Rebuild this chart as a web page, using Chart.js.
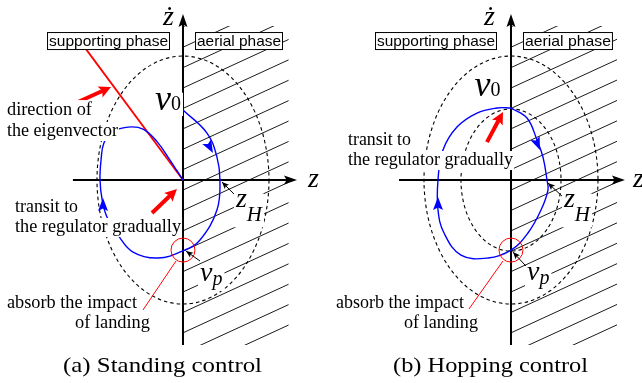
<!DOCTYPE html>
<html>
<head>
<meta charset="utf-8">
<script src="https://cdn.jsdelivr.net/npm/chart.js@4.4.0/dist/chart.umd.min.js"></script>
<style>
html, body { margin: 0; padding: 0; background: #fff; }
#wrap { position: relative; width: 642px; height: 383px; overflow: hidden; }
canvas { position: absolute; top: 0; }
#probe { position: absolute; left: -999px; font-family: "Liberation Serif"; }
</style>
</head>
<body>
<div id="wrap">
  <canvas id="panelA" width="321" height="383" style="left:0"></canvas>
  <canvas id="panelB" width="321" height="383" style="left:321px"></canvas>
</div>
<span id="probe">the regulator <i>v</i></span>
<script>
// Phase plane (z, zdot), both axes normalised to the outer energy contour.

// (a) standing control trajectory, starting at v0 and going clockwise
const standZ    = [0, 0.279, 0.395, 0.43, 0.395, 0.198, 0.02, -0.29, -0.581, -0.756, -0.884, -0.94, -0.965, -0.953, -0.92, -0.826, -0.64, -0.465, -0.302, -0.151, -0.07, 0];
const standZdot = [0.565, 0.379, 0.185, 0, -0.242, -0.484, -0.565, -0.629, -0.581, -0.444, -0.298, -0.16, 0, 0.161, 0.298, 0.387, 0.427, 0.411, 0.31, 0.16, 0.075, 0];
// eigenvector direction (red line into the origin)
const eigenZ    = [-1.128, 0];
const eigenZdot = [1.056, 0];
// pointer line from the landing ring to its note
const standLandZ    = [-0.081, -0.465];
const standLandZdot = [-0.653, -1.048];

// (b) hopping control trajectory, a closed loop through v0 and vp
const hopZ    = [0, 0.184, 0.299, 0.368, 0.414, 0.425, 0.345, 0.195, 0, -0.264, -0.575, -0.77, -0.839, -0.839, -0.782, -0.621, -0.391, -0.161, 0];
const hopZdot = [0.581, 0.5, 0.323, 0.185, 0, -0.081, -0.242, -0.427, -0.565, -0.629, -0.605, -0.427, -0.242, 0, 0.242, 0.427, 0.54, 0.581, 0.581];
const hopLandZ    = [-0.092, -0.483];
const hopLandZdot = [-0.653, -1.04];

// dashed energy contours: semi-axes [z, zdot]
const standContours = [[1, 1]];
const hopContours   = [[1, 1], [0.575, 0.573]];

const phaseLabels = ['supporting phase', 'aerial phase'];
const captions = ['(a) Standing control', '(b) Hopping control'];

const BLUE = '#0000ff';
const RED = '#ff0000';
const SERIF = '"Liberation Serif", serif';
const SANS = '"Liberation Sans", sans-serif';
const HATCH_GAP = 20.4;
const HATCH_SLOPE = 0.46;

// annotation anchors (data units) for each panel
const standLayout = {
  view: [-2.128, 1.605, -1.637, 1.452],
  axisZ: [-1.28, 1.326], axisZdot: [-1.33, 1.339],
  hatch: [1.23, 1.242, -1.33],
  boxes: [[-1.581, -0.151], [0.14, 1.163]], boxZdot: 1.121,
  contours: standContours,
  notes: [
    ['direction of', -2.047, 0.524, 85],
    ['the eigenvector', -2.047, 0.355, 111],
    ['transit to', -1.953, -0.258, 63],
    ['the regulator gradually', -1.953, -0.419, 166],
    ['absorb the impact', -2.047, -1.032, 130],
    ['of landing', -1.256, -1.194, 75]
  ],
  caption: [captions[0], -1.395, -1.548, 199],
  math: [
    ['v', '0', -0.325, 0.565, 36, 20, 0],
    ['v', 'p', 0.198, -0.815, 28, 20, 4],
    ['z', 'H', 0.616, -0.218, 28, 21, 14],
    ['\u017C', '', -0.233, 1.25, 28, 0, 0],
    ['z', '', 1.453, -0.056, 28, 0, 0]
  ],
  redArrows: [[-1.221, 0.629, -0.837, 0.75], [-0.36, -0.266, -0.07, -0.073]],
  blueHeads: [[0.279, 0.306, 0.349, 0.218], [-0.93, -0.242, -0.93, -0.145]],
  pointers: [[0.198, -0.653, 0.035, -0.573], [0.628, -0.137, 0.453, -0.016]],
  ring: [0, -0.565]
};

const hopLayout = {
  view: [-2.184, 1.506, -1.637, 1.452],
  axisZ: [-1.287, 1.31], axisZdot: [-1.33, 1.339],
  hatch: [1.22, 1.242, -1.33],
  boxes: [[-1.563, -0.161], [0.138, 1.172]], boxZdot: 1.121,
  contours: hopContours,
  notes: [
    ['transit to', -1.874, 0.282, 63],
    ['the regulator gradually', -1.874, 0.121, 165],
    ['absorb the impact', -2.011, -1.032, 128],
    ['of landing', -1.23, -1.194, 74]
  ],
  caption: [captions[1], -1.356, -1.548, 195],
  math: [
    ['v', '0', -0.42, 0.675, 36, 20, 0],
    ['v', 'p', 0.184, -0.806, 28, 20, 4],
    ['z', 'H', 0.609, -0.218, 28, 21, 14],
    ['\u017C', '', -0.31, 1.25, 28, 0, 0],
    ['z', '', 1.402, -0.056, 28, 0, 0]
  ],
  redArrows: [[-0.276, 0.306, -0.092, 0.548]],
  blueHeads: [[0.276, 0.339, 0.333, 0.242], [-0.839, -0.242, -0.839, -0.137]],
  pointers: [[0.172, -0.694, 0.023, -0.581], [0.598, -0.137, 0.425, -0.024]],
  ring: [0, -0.565]
};

function toPoints(xs, ys) {
  return xs.map((x, i) => ({ x, y: ys[i] }));
}

function head(ctx, x0, y0, x1, y1, len, half, color) {
  const a = Math.atan2(y1 - y0, x1 - x0);
  ctx.save();
  ctx.translate(x1, y1);
  ctx.rotate(a);
  ctx.beginPath();
  ctx.moveTo(0, 0);
  ctx.lineTo(-len, -half);
  ctx.lineTo(-len * 0.8, 0);
  ctx.lineTo(-len, half);
  ctx.closePath();
  ctx.fillStyle = color;
  ctx.fill();
  ctx.restore();
}

function fitText(ctx, text, x, y, width, font, bg) {
  ctx.save();
  ctx.font = font;
  const m = ctx.measureText(text);
  const k = width / m.width;
  if (bg) {
    ctx.fillStyle = '#fff';
    ctx.fillRect(x - 1, y - m.actualBoundingBoxAscent - 1, width + 2,
      m.actualBoundingBoxAscent + m.actualBoundingBoxDescent + 2);
  }
  ctx.translate(x, y);
  ctx.scale(k, 1);
  ctx.fillStyle = '#000';
  ctx.textBaseline = 'alphabetic';
  ctx.fillText(text, 0, 0);
  ctx.restore();
}

function diagram(L) {
  return {
    id: 'diagram',
    beforeDatasetsDraw(chart) {
      const ctx = chart.ctx;
      const X = v => chart.scales.x.getPixelForValue(v);
      const Y = v => chart.scales.y.getPixelForValue(v);
      const ox = X(0), oy = Y(0);

      // hatched aerial phase
      const hx = X(L.hatch[0]), hyT = Y(L.hatch[1]), hyB = Y(L.hatch[2]);
      const w = hx - ox;
      ctx.save();
      ctx.beginPath();
      ctx.rect(ox, hyT, w, hyB - hyT);
      ctx.clip();
      ctx.strokeStyle = '#000';
      ctx.lineWidth = 0.9;
      for (let c = oy + 10 - HATCH_GAP * 20; c < hyB + HATCH_SLOPE * w + HATCH_GAP; c += HATCH_GAP) {
        ctx.beginPath();
        ctx.moveTo(ox, c);
        ctx.lineTo(hx, c - HATCH_SLOPE * w);
        ctx.stroke();
      }
      ctx.restore();

      // dashed energy contours
      ctx.save();
      ctx.strokeStyle = '#000';
      ctx.lineWidth = 1.1;
      ctx.setLineDash([3.5, 3]);
      L.contours.forEach(([rz, rd]) => {
        ctx.beginPath();
        ctx.ellipse(ox, oy, Math.abs(X(rz) - ox), Math.abs(Y(rd) - oy), 0, 0, Math.PI * 2);
        ctx.stroke();
      });
      ctx.restore();

      // axes
      ctx.save();
      ctx.strokeStyle = '#000';
      ctx.lineWidth = 2;
      const ax0 = X(L.axisZ[0]), ax1 = X(L.axisZ[1]);
      const ay0 = Y(L.axisZdot[0]), ay1 = Y(L.axisZdot[1]);
      ctx.beginPath();
      ctx.moveTo(ax0, oy); ctx.lineTo(ax1 - 6, oy);
      ctx.moveTo(ox, ay0); ctx.lineTo(ox, ay1 + 6);
      ctx.stroke();
      head(ctx, ax0, oy, ax1, oy, 13, 4.5, '#000');
      head(ctx, ox, ay0, ox, ay1, 13, 4.5, '#000');
      ctx.restore();
    },
    afterDatasetsDraw(chart) {
      const ctx = chart.ctx;
      const X = v => chart.scales.x.getPixelForValue(v);
      const Y = v => chart.scales.y.getPixelForValue(v);

      // landing ring
      ctx.save();
      ctx.strokeStyle = RED;
      ctx.lineWidth = 1;
      ctx.beginPath();
      ctx.arc(X(L.ring[0]), Y(L.ring[1]), 12, 0, Math.PI * 2);
      ctx.stroke();
      ctx.restore();

      // blue direction heads
      L.blueHeads.forEach(([z0, d0, z1, d1]) => head(ctx, X(z0), Y(d0), X(z1), Y(d1), 13, 5, BLUE));

      // thick red arrows
      L.redArrows.forEach(([z0, d0, z1, d1]) => {
        const x0 = X(z0), y0 = Y(d0), x1 = X(z1), y1 = Y(d1);
        const a = Math.atan2(y1 - y0, x1 - x0);
        ctx.save();
        ctx.strokeStyle = RED;
        ctx.lineWidth = 4;
        ctx.beginPath();
        ctx.moveTo(x0, y0);
        ctx.lineTo(x1 - 9 * Math.cos(a), y1 - 9 * Math.sin(a));
        ctx.stroke();
        ctx.restore();
        head(ctx, x0, y0, x1, y1, 12, 6, RED);
      });

      // boxed phase labels
      L.boxes.forEach(([z0, z1], i) => {
        const x0 = X(z0), x1 = X(z1), yc = Y(L.boxZdot);
        ctx.save();
        ctx.fillStyle = '#fff';
        ctx.fillRect(x0, yc - 9, x1 - x0, 18);
        ctx.strokeStyle = '#000';
        ctx.lineWidth = 1;
        ctx.strokeRect(x0 + 0.5, yc - 9 + 0.5, x1 - x0 - 1, 17);
        ctx.restore();
        fitText(ctx, phaseLabels[i], x0 + 2, yc + 5, x1 - x0 - 4, '15px ' + SANS, false);
      });

      // small black pointers
      L.pointers.forEach(([z0, d0, z1, d1]) => {
        const x0 = X(z0), y0 = Y(d0), x1 = X(z1), y1 = Y(d1);
        ctx.save();
        ctx.strokeStyle = '#000';
        ctx.lineWidth = 1;
        ctx.beginPath();
        ctx.moveTo(x0, y0);
        ctx.lineTo(x1, y1);
        ctx.stroke();
        ctx.restore();
        head(ctx, x0, y0, x1, y1, 7, 3, '#000');
      });

      // notes with white background
      L.notes.forEach(([t, z, d, wpx]) => fitText(ctx, t, X(z), Y(d), wpx, '18px ' + SERIF, true));
      fitText(ctx, L.caption[0], X(L.caption[1]), Y(L.caption[2]), L.caption[3], '22px ' + SERIF, false);

      // math symbols
      L.math.forEach(([m, s, z, d, size, ssize, drop]) => {
        const x = X(z), y = Y(d);
        const subFont = (s === '0' ? '' : 'italic ') + ssize + 'px ' + SERIF;
        ctx.save();
        ctx.font = 'italic ' + size + 'px ' + SERIF;
        const mw = ctx.measureText(m).width;
        ctx.font = subFont;
        const sw = s ? ctx.measureText(s).width : 0;
        if (s) {
          ctx.fillStyle = '#fff';
          ctx.fillRect(x - 2, y - size * 0.48, mw + sw + 4, size * 0.48 + drop + ssize * 0.3);
        }
        ctx.fillStyle = '#000';
        ctx.font = 'italic ' + size + 'px ' + SERIF;
        ctx.fillText(m, x, y);
        if (s) {
          ctx.font = subFont;
          ctx.fillText(s, x + mw, y + drop);
        }
        ctx.restore();
      });
    }
  };
}

function makePanel(id, L, trajZ, trajZdot, extraLines) {
  const datasets = [{
    data: toPoints(trajZ, trajZdot),
    showLine: true,
    tension: 0.4,
    borderColor: BLUE,
    borderWidth: 1.4,
    pointRadius: 0
  }];
  extraLines.forEach(([xs, ys, width]) => datasets.push({
    data: toPoints(xs, ys),
    showLine: true,
    borderColor: RED,
    borderWidth: width,
    pointRadius: 0
  }));

  new Chart(document.getElementById(id), {
    type: 'scatter',
    data: { datasets },
    options: {
      responsive: false,
      animation: false,
      devicePixelRatio: 1,
      layout: { padding: 0 },
      scales: {
        x: { type: 'linear', min: L.view[0], max: L.view[1], display: false },
        y: { type: 'linear', min: L.view[2], max: L.view[3], display: false }
      },
      plugins: { legend: { display: false }, tooltip: { enabled: false } }
    },
    plugins: [diagram(L)]
  });
}

function drawAll() {
  makePanel('panelA', standLayout, standZ, standZdot, [[eigenZ, eigenZdot, 1.8], [standLandZ, standLandZdot, 1]]);
  makePanel('panelB', hopLayout, hopZ, hopZdot, [[hopLandZ, hopLandZdot, 1]]);
}

Promise.all([
  document.fonts.load('18px "Liberation Serif"'),
  document.fonts.load('italic 28px "Liberation Serif"'),
  document.fonts.load('15px "Liberation Sans"')
]).then(drawAll, drawAll);
</script>
</body>
</html>
